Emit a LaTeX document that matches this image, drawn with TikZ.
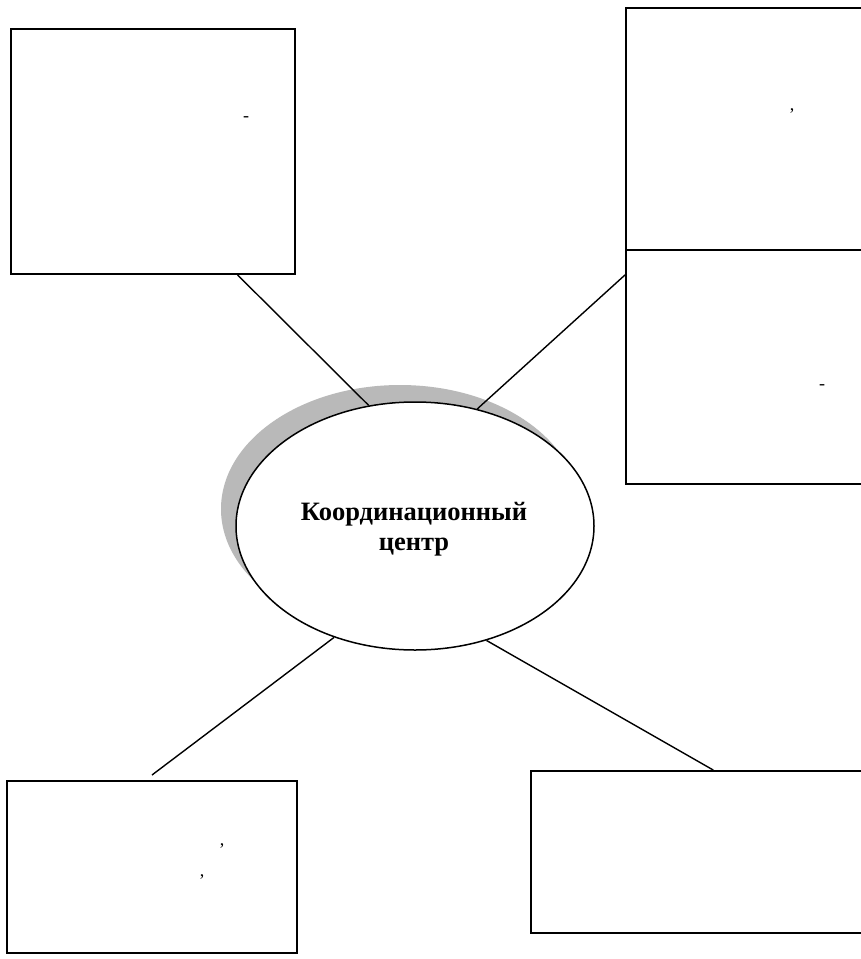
\documentclass[tikz,border=0pt]{standalone}
\usepackage{fontspec}
\setmainfont{Liberation Serif}
\usetikzlibrary{shapes.geometric,calc}
\definecolor{shadowgray}{RGB}{185,185,185}
\tikzset{
  box/.style={draw=black, line width=2pt, fill=white, rectangle, inner sep=0pt},
  link/.style={draw=black, line width=1.4pt},
  bubble/.style={draw=black, line width=1.5pt, fill=white, ellipse, inner sep=0pt},
  mark text/.style={font=\fontsize{18}{20}\selectfont, inner sep=0pt},
  centre text/.style={font=\fontsize{26.5}{30}\selectfont\bfseries, align=center, inner sep=0pt}
}
\begin{document}
\begin{tikzpicture}[x=1pt,y=-1pt]
\useasboundingbox (0,0) rectangle (861,959);
\clip (0,0) rectangle (861,959);
\fill[white] (0,0) rectangle (861,959);
% boxes
\node[box, minimum width=284pt, minimum height=245pt] (tl) at (153,151.5) {};
\node[box, minimum width=254pt, minimum height=242pt] (tru) at (753,129) {};
\node[box, minimum width=254pt, minimum height=234pt] (trl) at (753,367) {};
\node[box, minimum width=290pt, minimum height=172pt] (bl) at (152,867) {};
\node[box, minimum width=349pt, minimum height=162pt] (br) at (705.5,852) {};
% stray marks
\node[mark text] (m1) at (246,119) {-};
\node[mark text] (m2) at (792,111) {,};
\node[mark text] (m3) at (822,387) {-};
\node[mark text] (m4) at (222,846) {,};
\node[mark text] (m5) at (202,877) {,};
% centre
\fill[shadowgray] (400,509) ellipse [x radius=179, y radius=124];
\node[bubble, minimum width=358pt, minimum height=248pt] (hub) at (415,526) {};
\node[centre text] (label) at (414,529) {Координационный\\центр};
% connectors
\coordinate (blend) at ([yshift=5pt]bl.north);
\draw[link] ($(tl.south west)!0.796!(tl.south east)$) -- (hub.111);
\draw[link] ($(trl.north west)!0.11!(trl.south west)$) -- (hub.62.5);
\draw[link] (hub.234) -- (blend);
\draw[link] (hub.302) -- ($(br.north west)!0.522!(br.north east)$);
\end{tikzpicture}
\end{document}
